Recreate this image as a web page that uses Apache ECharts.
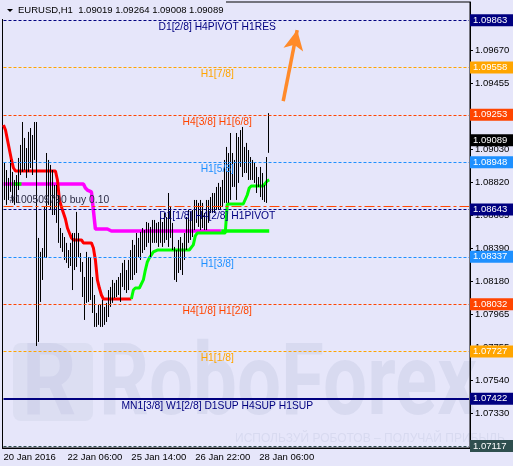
<!DOCTYPE html>
<html>
<head>
<meta charset="utf-8">
<script src="https://cdn.jsdelivr.net/npm/echarts@6/dist/echarts.min.js"></script>
<style>
  html, body { margin: 0; padding: 0; background: #e6e6fa; }
  #chart { width: 513px; height: 466px; }
</style>
</head>
<body>
<div id="chart"></div>
<script>
// EURUSD H1, bars from 20 Jan 2016 22:00
const symbolName = 'EURUSD,H1'
const lastOhlc = [1.09019, 1.09264, 1.09008, 1.09089]

const highs = [
  1.08962, 1.08943, 1.08897, 1.08846, 1.08962, 1.08885, 1.08833, 1.08865, 1.08975, 1.09059,
  1.09207, 1.09104, 1.09039, 1.09143, 1.09168, 1.09123, 1.09207, 1.09207, 1.08459, 1.08369,
  1.08394, 1.08659, 1.09007, 1.08962, 1.08930, 1.08897, 1.08801, 1.08801, 1.08736, 1.08523,
  1.08491, 1.08465, 1.08427, 1.08381, 1.08427, 1.08491, 1.08491, 1.08627, 1.08491, 1.08362,
  1.08304, 1.08207, 1.08369, 1.08336, 1.08330, 1.08207, 1.08091, 1.07975, 1.08027, 1.08027,
  1.08059, 1.08014, 1.08040, 1.08123, 1.08143, 1.08188, 1.08169, 1.08188, 1.08207, 1.08233,
  1.08298, 1.08317, 1.08252, 1.08317, 1.08381, 1.08446, 1.08414, 1.08491, 1.08459, 1.08498,
  1.08523, 1.08510, 1.08562, 1.08556, 1.08530, 1.08575, 1.08575, 1.08556, 1.08562, 1.08594,
  1.08562, 1.08620, 1.08594, 1.08749, 1.08659, 1.08556, 1.08401, 1.08381, 1.08446, 1.08465,
  1.08427, 1.08491, 1.08594, 1.08639, 1.08627, 1.08639, 1.08704, 1.08704, 1.08685, 1.08704,
  1.08685, 1.08620, 1.08704, 1.08704, 1.08723, 1.08749, 1.08749, 1.08788, 1.08814, 1.08788,
  1.08833, 1.08962, 1.09046, 1.09007, 1.09136, 1.09007, 1.08962, 1.09136, 1.09110, 1.09155,
  1.09175, 1.09046, 1.09072, 1.09026, 1.08981, 1.08962, 1.08943, 1.08917, 1.08852, 1.08917,
  1.08878, 1.08801, 1.08981, 1.09264
]
const lows = [
  1.08672, 1.08704, 1.08672, 1.08704, 1.08756, 1.08685, 1.08672, 1.08685, 1.08768, 1.08865,
  1.08885, 1.08897, 1.08846, 1.08885, 1.08910, 1.08865, 1.08962, 1.07762, 1.07788, 1.08046,
  1.08188, 1.08336, 1.08330, 1.08672, 1.08639, 1.08607, 1.08607, 1.08556, 1.08427, 1.08394,
  1.08369, 1.08317, 1.08298, 1.08265, 1.08278, 1.08123, 1.08252, 1.08272, 1.08336, 1.08240,
  1.08078, 1.07930, 1.08040, 1.08046, 1.08059, 1.07975, 1.07885, 1.07885, 1.07898, 1.07885,
  1.07885, 1.07898, 1.07917, 1.07949, 1.08014, 1.08040, 1.08072, 1.08078, 1.08091, 1.08046,
  1.08143, 1.08123, 1.08104, 1.08123, 1.08188, 1.08188, 1.08220, 1.08233, 1.08336, 1.08317,
  1.08362, 1.08381, 1.08401, 1.08427, 1.08336, 1.08427, 1.08427, 1.08427, 1.08401, 1.08427,
  1.08401, 1.08427, 1.08446, 1.08401, 1.08459, 1.08381, 1.08188, 1.08175, 1.08233, 1.08252,
  1.08220, 1.08317, 1.08381, 1.08427, 1.08446, 1.08465, 1.08510, 1.08556, 1.08530, 1.08510,
  1.08523, 1.08510, 1.08510, 1.08556, 1.08620, 1.08620, 1.08620, 1.08639, 1.08639, 1.08639,
  1.08659, 1.08685, 1.08685, 1.08685, 1.08704, 1.08788, 1.08788, 1.08704, 1.08814, 1.08917,
  1.08852, 1.08878, 1.08878, 1.08833, 1.08833, 1.08833, 1.08814, 1.08749, 1.08788, 1.08723,
  1.08704, 1.08691, 1.08685, 1.09008
]

// stepped trend line: red part from bar 0, green part from bar 64
const redLine = [
  1.09188, 1.09155, 1.09091, 1.09026, 1.08962, 1.08910,
  1.08891, 1.08891, 1.08891, 1.08891, 1.08891, 1.08891, 1.08891, 1.08891, 1.08891, 1.08891,
  1.08891, 1.08891, 1.08891, 1.08891, 1.08891, 1.08891, 1.08891, 1.08891, 1.08891, 1.08891,
  1.08891,
  1.08833, 1.08704, 1.08659, 1.08620, 1.08581, 1.08523, 1.08491, 1.08459,
  1.08446, 1.08446, 1.08446, 1.08446, 1.08446,
  1.08427, 1.08427, 1.08427, 1.08427, 1.08427,
  1.08394, 1.08317, 1.08188, 1.08136, 1.08091,
  1.08065, 1.08065, 1.08065, 1.08065, 1.08065, 1.08065, 1.08065, 1.08065, 1.08065, 1.08065,
  1.08065, 1.08065, 1.08065, 1.08065, 1.08065
]
const greenStart = 64
const greenLine = [
  1.08065, 1.08123, 1.08136, 1.08136, 1.08136, 1.08136,
  1.08188, 1.08252, 1.08304, 1.08330, 1.08349, 1.08369,
  1.08381, 1.08381, 1.08381, 1.08381, 1.08381, 1.08381, 1.08381, 1.08381, 1.08381, 1.08381,
  1.08381, 1.08381, 1.08381, 1.08381, 1.08381, 1.08381, 1.08381, 1.08381, 1.08381,
  1.08414, 1.08472,
  1.08491, 1.08491, 1.08491, 1.08491, 1.08491, 1.08491, 1.08491, 1.08491, 1.08491, 1.08491,
  1.08491, 1.08491, 1.08491, 1.08491, 1.08491,
  1.08678, 1.08678, 1.08678, 1.08678, 1.08678, 1.08678, 1.08678, 1.08678, 1.08678, 1.08678,
  1.08736, 1.08781,
  1.08794, 1.08794, 1.08794, 1.08794, 1.08794, 1.08794, 1.08794, 1.08794,
  1.08827, 1.08833
]

// slow line: magenta part, then lime part
const magentaLine = [
  1.08807, 1.08807, 1.08807, 1.08807, 1.08807, 1.08807, 1.08807, 1.08807, 1.08807, 1.08807,
  1.08807, 1.08807, 1.08807, 1.08807, 1.08807, 1.08807, 1.08807, 1.08807, 1.08807, 1.08807,
  1.08807, 1.08807, 1.08807, 1.08807, 1.08807, 1.08807, 1.08807, 1.08807, 1.08807, 1.08807,
  1.08807, 1.08807, 1.08807, 1.08807, 1.08807, 1.08807, 1.08807, 1.08807, 1.08807, 1.08807,
  1.08807,
  1.08781, 1.08768, 1.08756, 1.08756, 1.08756,
  1.08517, 1.08517, 1.08517, 1.08517, 1.08517, 1.08517, 1.08517, 1.08517,
  1.08504, 1.08504, 1.08504, 1.08504, 1.08504, 1.08504, 1.08504, 1.08504, 1.08504, 1.08504,
  1.08504, 1.08504, 1.08504, 1.08504, 1.08504, 1.08504, 1.08504, 1.08504, 1.08504, 1.08504,
  1.08504, 1.08504, 1.08504, 1.08504, 1.08504, 1.08504, 1.08504, 1.08504, 1.08504, 1.08504,
  1.08504, 1.08504, 1.08504, 1.08504, 1.08504, 1.08504, 1.08504, 1.08504, 1.08504, 1.08504,
  1.08504, 1.08504, 1.08504, 1.08504, 1.08504, 1.08504, 1.08504, 1.08504, 1.08504, 1.08504,
  1.08504, 1.08504, 1.08504, 1.08504, 1.08504, 1.08504
]
const limeStartA = 5
const limeLineA = [1.08807, 1.08807, 1.08807, 1.08807, 1.08807]
const limeStartB = 109
const limeLineB = [
  1.08504, 1.08504, 1.08504, 1.08504, 1.08504, 1.08504, 1.08504, 1.08504, 1.08504, 1.08504,
  1.08504, 1.08504, 1.08504, 1.08504, 1.08504, 1.08504, 1.08504, 1.08504, 1.08504, 1.08504,
  1.08504, 1.08504, 1.08504, 1.08504, 1.08504
]

// Murrey levels
const levelPrices = [1.09863, 1.09558, 1.09253, 1.08948, 1.08643, 1.08337, 1.08032, 1.07727, 1.07422, 1.07117]
const levelNames = [
  'D1[2/8] H4PIVOT H1RES', 'H1[7/8]', 'H4[3/8] H1[6/8]', 'H1[5/8]', 'D1[1/8] H4[2/8] H1PIVOT',
  'H1[3/8]', 'H4[1/8] H1[2/8]', 'H1[1/8]', 'MN1[3/8] W1[2/8] D1SUP H4SUP H1SUP', ''
]
const orderPrice = 1.08665
const orderText = '#100509790 buy 0.10'
const arrowFrom = [140, 1.09342]
const arrowTo = [147, 1.09800]

const yTicks = [1.09670, 1.09455, 1.09240, 1.09030, 1.08820, 1.08605, 1.08390, 1.08180, 1.07965, 1.07755, 1.07540, 1.07330]
const yLabels = [1.09670, 1.09455, 1.09030, 1.08820, 1.08605, 1.08390, 1.08180, 1.07965, 1.07755, 1.07540, 1.07330]

// styles
const bg = '#e6e6fa'
const font = 'Liberation Sans'
const levelColors = ['#000080', '#ffa500', '#ff4500', '#1e90ff', '#000080', '#1e90ff', '#ff4500', '#ffa500', '#000080', '#2f4f4f']
const slotCount = 234

// hourly categories, weekend hours skipped
const months = ['Jan', 'Feb', 'Mar']
const categories = []
let t = Date.UTC(2016, 0, 20, 22)
while (categories.length < slotCount) {
  const d = new Date(t)
  const wd = d.getUTCDay()
  if (wd !== 0 && wd !== 6) {
    const hh = String(d.getUTCHours()).padStart(2, '0')
    categories.push([d.getUTCDate(), months[d.getUTCMonth()], d.getUTCFullYear(), hh + ':00'])
  }
  t += 3600000
}
const catNames = categories.map((c) => c.join(' '))
const showTime = (idx) => idx % 32 === 0 && idx < highs.length

const chart = echarts.init(document.getElementById('chart'))

// horizontal line across the whole plot
const hLine = (p, lineStyle, label) => [
  { coord: [0, p], lineStyle, label },
  { coord: [slotCount - 1, p] },
]

const levelItems = levelPrices.map((p, k) => hLine(
  p,
  { color: levelColors[k], width: k === 8 ? 2 : 1, type: k === 8 ? 'solid' : [3, 2] },
  {
    show: levelNames[k] !== '',
    position: 'insideMiddleBottom',
    formatter: levelNames[k],
    color: levelColors[k],
    fontFamily: font,
    fontSize: 10.3,
    distance: 2,
    padding: [0, 38, 0, 0],
  }
))
levelItems.push(hLine(
  orderPrice,
  { color: '#ff4500', width: 1, type: [10, 3, 3, 3] },
  {
    show: true,
    position: 'insideStartTop',
    formatter: orderText,
    color: '#2b2b45',
    fontFamily: font,
    fontSize: 10.3,
    distance: 1,
    padding: [0, 0, 0, 5],
  }
))

const tagPrices = levelPrices.concat([lastOhlc[3]])
const tagColors = levelColors.concat(['#000000'])
const tagItems = tagPrices.map((p, k) => hLine(
  p,
  { color: 'rgba(0,0,0,0)', width: 1 },
  {
    show: true,
    position: 'end',
    distance: 1,
    formatter: p.toFixed(5),
    color: '#ffffff',
    backgroundColor: tagColors[k],
    padding: [1, 10, 1, 3],
    fontFamily: font,
    fontSize: 9.5,
  }
))

const lineSeries = (name, start, values, color, width, z) => ({
  name,
  type: 'line',
  data: values.map((v, k) => [start + k, v]),
  showSymbol: false,
  symbol: 'none',
  lineStyle: { color, width },
  z,
  silent: true,
  animation: false,
})

const magentaSeries = lineSeries('magenta', 0, magentaLine, '#ff00ff', 3.5, 2)
magentaSeries.markLine = { silent: true, symbol: ['none', 'none'], animation: false, data: levelItems }

const redSeries = lineSeries('red', 0, redLine, '#ff0000', 3, 2)
redSeries.markLine = { silent: true, symbol: ['none', 'none'], animation: false, data: tagItems }

const greenSeries = lineSeries('green', greenStart, greenLine, '#00ff00', 3, 2)
greenSeries.markLine = {
  silent: true,
  animation: false,
  symbol: ['none', 'arrow'],
  symbolSize: [15, 20],
  label: { show: false },
  lineStyle: { color: '#ff8a2a', width: 3.5, type: 'solid' },
  data: [[{ coord: arrowFrom }, { coord: arrowTo }]],
}

chart.setOption({
  backgroundColor: bg,
  animation: false,
  grid: { left: 2.5, right: 43, top: 2, bottom: 18, show: true, borderColor: '#000', borderWidth: 1, backgroundColor: 'transparent' },
  xAxis: {
    type: 'category',
    data: catNames,
    boundaryGap: true,
    axisLine: { lineStyle: { color: '#000', width: 1 } },
    axisTick: { alignWithLabel: true, interval: showTime, length: 4, lineStyle: { color: '#000' } },
    axisLabel: {
      interval: showTime,
      align: 'left',
      margin: 4,
      color: '#000',
      fontFamily: font,
      fontSize: 9.5,
      formatter: (val, idx) => {
        const c = categories[idx]
        return idx === 0 ? c[0] + ' ' + c[1] + ' ' + c[2] : c[0] + ' ' + c[1] + ' ' + c[3]
      },
    },
    splitLine: { show: false },
  },
  yAxis: {
    type: 'value',
    position: 'right',
    min: 1.07104,
    max: 1.09981,
    axisLine: { show: true, lineStyle: { color: '#000' } },
    axisTick: { show: true, length: 3, customValues: yTicks, lineStyle: { color: '#000' } },
    axisLabel: {
      customValues: yLabels,
      margin: 5,
      color: '#000',
      fontFamily: font,
      fontSize: 9.5,
      formatter: (v) => v.toFixed(5),
    },
    splitLine: { show: false },
  },
  graphic: [
    { type: 'rect', z: -10, silent: true, shape: { x: 13, y: 343, width: 80, height: 78, r: 8 }, style: { fill: '#dcdef2' } },
    { type: 'text', z: -9, silent: true, x: 22, y: 339, scaleX: 0.85, style: { text: 'R', fontFamily: 'Roboto', fontWeight: 'bold', fontSize: 100, fill: '#d2d4ec', verticalAlign: 'top' } },
    { type: 'text', z: -10, silent: true, x: 99, y: 338, scaleX: 0.773, style: { text: 'RoboForex', fontFamily: 'Roboto', fontWeight: 'bold', fontSize: 101, fill: '#d8daf0', verticalAlign: 'top' } },
    { type: 'text', z: -10, silent: true, x: 235, y: 439, style: { text: 'ИСПОЛЬЗУЙ РОБОТОВ – ПОЛУЧАЙ ПРИБЫЛЬ', fontFamily: font, fontSize: 12, fill: '#d8daf0', verticalAlign: 'middle' } },
    { type: 'rect', z: 100, silent: true, shape: { x: 0, y: 0, width: 226, height: 19 }, style: { fill: bg } },
    { type: 'polygon', z: 101, silent: true, shape: { points: [[7, 9], [13, 9], [10, 12]] }, style: { fill: '#000' } },
    {
      type: 'text', z: 101, silent: true, x: 18, y: 10,
      style: { text: symbolName + '  ' + lastOhlc.map((v) => v.toFixed(5)).join(' '), fontFamily: font, fontSize: 9.5, fill: '#000', verticalAlign: 'middle' },
    },
  ],
  series: [
    magentaSeries,
    lineSeries('limeA', limeStartA, limeLineA, '#00ff00', 3.5, 2),
    lineSeries('limeB', limeStartB, limeLineB, '#00ff00', 3.5, 2),
    redSeries,
    greenSeries,
    {
      name: 'bars',
      type: 'custom',
      z: 3,
      silent: true,
      data: highs.map((h, i) => [i, h, lows[i]]),
      encode: { x: 0, y: [1, 2] },
      renderItem: (params, api) => {
        const top = api.coord([api.value(0), api.value(1)])
        const bot = api.coord([api.value(0), api.value(2)])
        const x = Math.round(top[0]) - 0.5
        return {
          type: 'line',
          shape: { x1: x, y1: top[1], x2: x, y2: bot[1] },
          style: { stroke: '#000', lineWidth: 1 },
        }
      },
    },
  ],
})
</script>
</body>
</html>
